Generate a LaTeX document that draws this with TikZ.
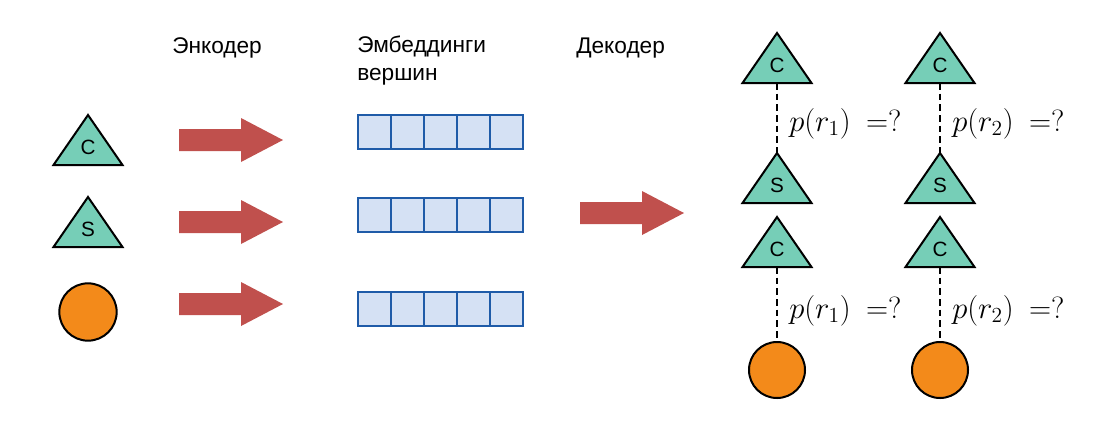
\RequirePackage{fix-cm}
\documentclass[tikz,border=0pt]{standalone}
\usepackage{fontspec}
\setmainfont{Liberation Sans}
\usetikzlibrary{calc}

\definecolor{atomgreen}{HTML}{76CEB7}
\definecolor{atomorange}{HTML}{F38A1A}
\definecolor{arrowred}{HTML}{C0504D}
\definecolor{cellblue}{HTML}{D5E1F4}
\definecolor{celledge}{HTML}{1F5BA8}

\tikzset{
    atom/.style={draw=black, line width=1.5pt, fill=atomgreen},
    atomlabel/.style={inner sep=0pt, font=\fontsize{15.5}{15.5}\selectfont},
    ring/.style={circle, draw=black, line width=1.5pt, fill=atomorange,
                 minimum size=43pt, inner sep=0pt},
    cell/.style={draw=celledge, line width=2pt, fill=cellblue},
    bond/.style={draw=black, line width=1.4pt, dash pattern=on 5pt off 3pt},
    title/.style={inner sep=0pt, anchor=base west, align=left,
                  font=\fontsize{17}{20.5}\selectfont},
    prob/.style={inner sep=0pt, anchor=base west, font=\fontsize{23}{27}\selectfont}
}

% triangle atom: name, apex x, apex y, letter
\newcommand{\atomtri}[4]{%
    \draw[atom] (#2,#3) -- ++(-34.5,50) -- ++(69,0) -- cycle;
    \coordinate (#1-top) at (#2,#3);
    \coordinate (#1-bot) at (#2,#3+50);
    \node[atomlabel] (#1) at (#2,#3+32) {#4};
}

% fat arrow: tail x, centre y
\newcommand{\fatarrow}[2]{%
    \fill[arrowred] (#1,#2-11) -- ++(62,0) -- ++(0,-11) -- ++(42,22)
        -- ++(-42,22) -- ++(0,-11) -- ++(-62,0) -- cycle;
}

\begin{document}
\begin{tikzpicture}[x=0.75pt,y=-0.75pt]
\useasboundingbox (0,0) rectangle (1113,437);

\node[title] (enc) at (172,53) {Энкодер};
\node[title] (emb) at (357,80) {Эмбеддинги\\вершин};
\node[title] (dec) at (576,53) {Декодер};

% input atoms
\atomtri{inc}{88}{115}{C}
\atomtri{ins}{88}{197}{S}
\node[ring] (ino) at (88,312) {};

% encoder arrows
\foreach \y in {140,222,304}
    \fatarrow{179}{\y};

% embeddings
\foreach \y in {115,198,292}
    \foreach \i in {0,...,4}
        \draw[cell] ({358+33*\i},\y) rectangle ++(33,34);

% decoder arrow
\fatarrow{580}{213}

% decoded pairs
\foreach \x/\k in {777/1,940/2} {
    \atomtri{ca\k}{\x}{33}{C}
    \atomtri{sa\k}{\x}{153}{S}
    \atomtri{cb\k}{\x}{217}{C}
    \node[ring, minimum size=42pt] (ob\k) at (\x,370) {};
    \draw[bond] (ca\k-bot) -- (sa\k-top);
    \draw[bond] (cb\k-bot) -- (ob\k.north);
    \node[prob] (pa\k) at (\x+12,131) {$p(r_\k)\enspace{=}?$};
    \node[prob] (pb\k) at (\x+12,318) {$p(r_\k)\enspace{=}?$};
}

\end{tikzpicture}
\end{document}
